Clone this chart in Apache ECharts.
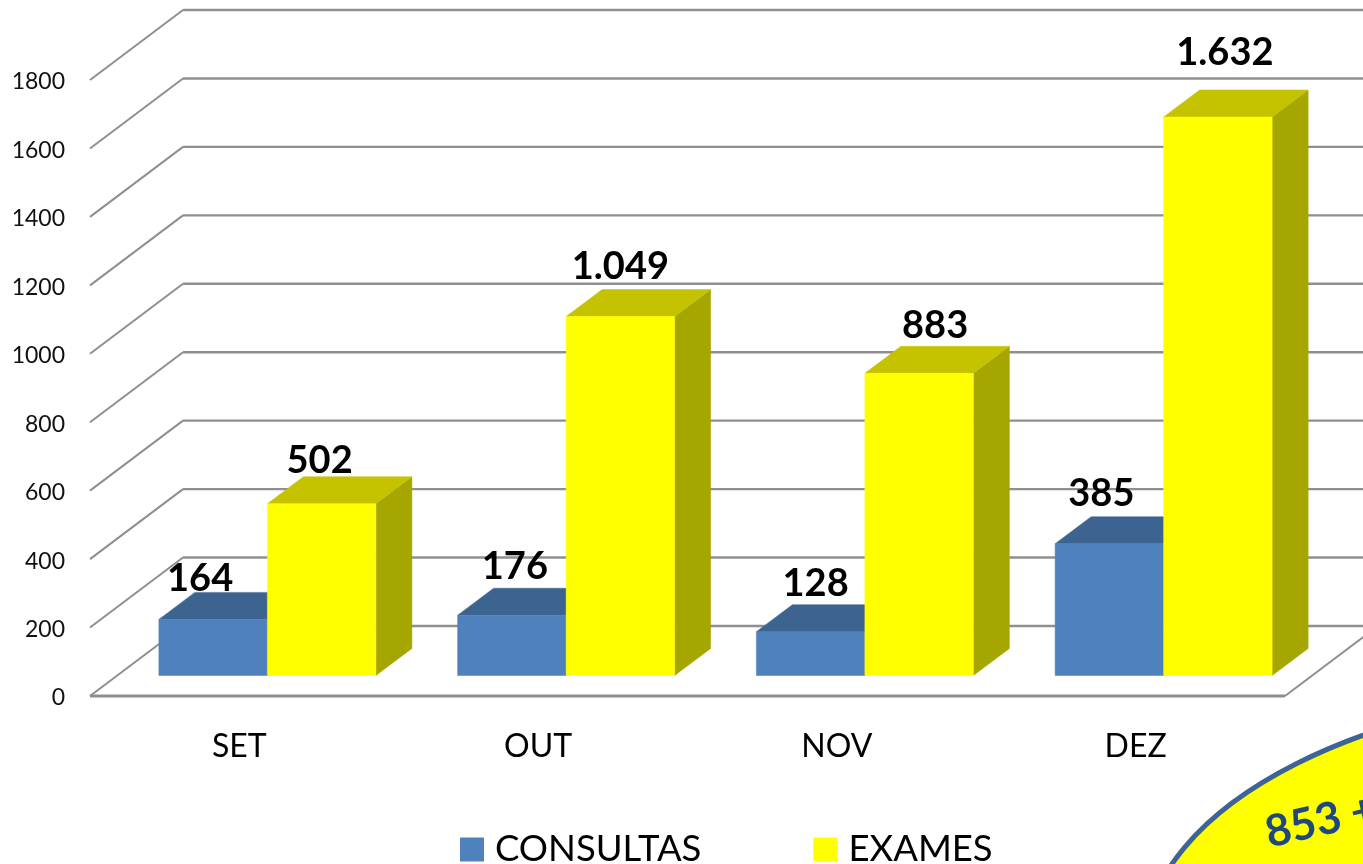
<!DOCTYPE html>
<html><head><meta charset="utf-8">
<style>html,body{margin:0;padding:0;background:#fff;overflow:hidden}#c{width:1363px;height:864px}</style>
<script src="https://cdn.jsdelivr.net/npm/echarts@6/dist/echarts.min.js"></script>
</head><body><div id="c"></div>
<script>
const categories = ['SET', 'OUT', 'NOV', 'DEZ'];
const consultas = [164, 176, 128, 385];
const exames = [502, 1049, 883, 1632];
const gridTicks = [0, 200, 400, 600, 800, 1000, 1200, 1400, 1600, 1800];
const calloutText = '853 +';

const FONT = 'Lato';
const WALL = {dx: 93, dy: -70};
const BAR = {dx: 36, dy: -27, shiftX: 28, shiftY: -20.5, ratio: 108.5 / 298.75};
const consultasLabelShift = [[-13, 9], [3, 1], [5, 2], [-8, 0]];
const examesLabelShift = [[-2, 7], [0, 0], [16, 2], [7, -14]];
const GRID_COLOR = '#8f8f8f';

const fmt = v => String(v).replace(/\B(?=(\d{3})+$)/g, '.');
const poly = (points, fill, z2) => ({type: 'polygon', z2, shape: {points}, style: {fill, stroke: fill, lineWidth: 0.5}});

function wall(params, api) {
  const c = params.coordSys;
  const y = api.coord([0, api.value(1)])[1];
  const x0 = c.x, x1 = c.x + c.width;
  const line = (a, b, d, e, w) => ({type: 'line', shape: {x1: a, y1: b, x2: d, y2: e}, style: {stroke: GRID_COLOR, lineWidth: w}});
  const kids = [
    line(x0, y, x0 + WALL.dx, y + WALL.dy, 2),
    line(x0 + WALL.dx, y + WALL.dy, 1363, y + WALL.dy, 2.4)
  ];
  if (api.value(1) === 0) {
    kids.push(line(x0, y, x1, y, 3));
    kids.push(line(x1, y, x1 + WALL.dx, y + WALL.dy, 2));
  }
  return {type: 'group', children: kids};
}

function barShape(values, sideSign, cols, shifts) {
  return function (params, api) {
    const i = params.dataIndex;
    const top = api.coord([i, api.value(1)]);
    const bot = api.coord([i, 0]);
    const w = api.size([1, 0])[0] * BAR.ratio;
    const cx = top[0] + BAR.shiftX + sideSign * w / 2;
    const l = cx - w / 2, r = cx + w / 2;
    const t = top[1] + BAR.shiftY, b = bot[1] + BAR.shiftY;
    const s = shifts[i];
    return {type: 'group', children: [
      poly([[r, t], [r + BAR.dx, t + BAR.dy], [r + BAR.dx, b + BAR.dy], [r, b]], cols.side, 1),
      poly([[l, t], [l + BAR.dx, t + BAR.dy], [r + BAR.dx, t + BAR.dy], [r, t]], cols.top, 2),
      poly([[l, t], [r, t], [r, b], [l, b]], cols.front, 3),
      {type: 'text', z2: 10, style: {
        x: cx + BAR.dx / 2 + s[0] - 18, y: t + BAR.dy - 4 + s[1], text: fmt(api.value(1)),
        fill: '#000', font: 'bold 38px ' + FONT, align: 'center', verticalAlign: 'bottom'}}
    ]};
  };
}

const chart = echarts.init(document.getElementById('c'), null, {renderer: 'canvas', width: 1363, height: 864});
chart.setOption({
  backgroundColor: '#fff',
  animation: false,
  grid: {left: 90, top: 80, width: 1195, height: 616, containLabel: false},
  xAxis: {type: 'category', data: categories,
    axisLine: {show: false}, axisTick: {show: false}, splitLine: {show: false},
    axisLabel: {color: '#000', fontFamily: FONT, fontSize: 32, margin: 35}},
  yAxis: {type: 'value', min: 0, max: 1800, interval: 200,
    axisLine: {show: false}, axisTick: {show: false}, splitLine: {show: false},
    axisLabel: {color: '#111', fontFamily: FONT, fontSize: 23, margin: 25, verticalAlign: 'top', lineHeight: 4, formatter: v => String(v)}},
  legend: {data: ['CONSULTAS', 'EXAMES'], left: 455, top: 826, itemWidth: 24, itemHeight: 24, itemGap: 112,
    icon: 'rect', textStyle: {color: '#000', fontFamily: FONT, fontSize: 36.5, padding: [0, 0, 0, 6]}},
  series: [
    {type: 'custom', name: 'grade', silent: true, clip: false, z: 1, renderItem: wall,
      data: gridTicks.map(v => [0, v])},
    {type: 'custom', name: 'CONSULTAS', clip: false, z: 2, itemStyle: {color: '#4f81bd'},
      renderItem: barShape(consultas, -1, {front: '#4f81bd', top: '#3d6391', side: '#3d6391'}, consultasLabelShift),
      data: consultas.map((v, i) => [i, v])},
    {type: 'custom', name: 'EXAMES', clip: false, z: 3, itemStyle: {color: '#ffff00'},
      renderItem: barShape(exames, 1, {front: '#ffff00', top: '#c5c300', side: '#a6a600'}, examesLabelShift),
      data: exames.map((v, i) => [i, v])}
  ],
  graphic: [
    {type: 'ellipse', z: 20, shape: {cx: 1664, cy: 949, rx: 520, ry: 262},
      style: {fill: '#ffff00', stroke: '#3c6494', lineWidth: 5}},
    {type: 'text', z: 21, x: 1266, y: 834, rotation: 13 * Math.PI / 180,
      style: {text: calloutText, fill: '#1f497d', font: 'bold 44px ' + FONT, align: 'left', verticalAlign: 'middle'}}
  ]
});
</script></body></html>
